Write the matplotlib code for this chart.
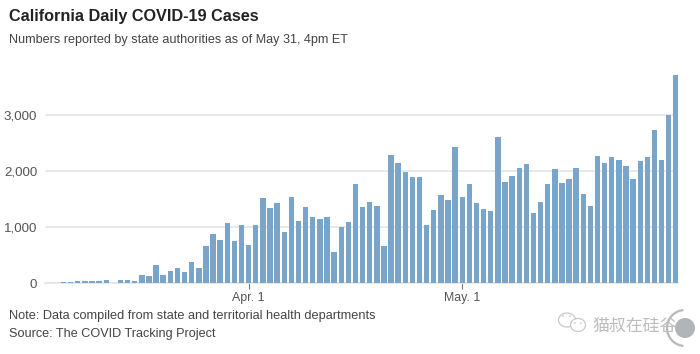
import pandas as pd
import matplotlib
matplotlib.use("Agg")
import matplotlib.pyplot as plt
from matplotlib.patches import Ellipse, Circle, Arc

plt.rcParams['font.family'] = ['Liberation Sans', 'Noto Sans CJK SC', 'DejaVu Sans']

# daily new cases, Mar 6 to May 31
march = [20, 22, 28, 30, 28, 30, 55, 0, 55, 45, 40, 150, 130, 320, 140, 220, 260, 200,
         370, 260, 660, 880, 770, 1070, 750, 1040]
april = [685, 1040, 1518, 1333, 1423, 905, 1536, 1100, 1363, 1173, 1149, 1185, 560, 1000, 1095,
         1762, 1351, 1440, 1381, 655, 2286, 2143, 1976, 1887, 1887, 1036, 1310, 1571, 1476, 2423]
may = [1527, 1760, 1420, 1325, 1277, 2606, 1800, 1902, 2051, 2123, 1258, 1449, 1760, 2027, 1777,
       1860, 2051, 1592, 1371, 2266, 2147, 2254, 2194, 2081, 1849, 2182, 2254, 2725, 2194, 3000, 3715]
cases = march + april + may
days = pd.date_range("2020-03-06", periods=len(cases))

y_ticks = [0, 1000, 2000, 3000]
x_ticks = [pd.Timestamp("2020-04-01"), pd.Timestamp("2020-05-01")]
x_labels = ["Apr. 1", "May. 1"]

title = "California Daily COVID-19 Cases"
subtitle = "Numbers reported by state authorities as of May 31, 4pm ET"
note = "Note: Data compiled from state and territorial health departments"
source = "Source: The COVID Tracking Project"
watermark = "猫叔在硅谷"

W, H = 700, 354
fig = plt.figure(figsize=(W / 100, H / 100), dpi=100)

# axes placed in pixels: y=0 at 283, 3000 at 115
top = 70
ax = fig.add_axes([45 / W, (H - 283) / H, (678 - 45) / W, (283 - top) / H])
ax.bar(days, cases, width=0.76, color="#7aa5cb", zorder=3)
ax.set_ylim(0, (283 - top) / 56 * 1000)
ax.set_xlim(x_ticks[0] - pd.Timedelta(days=28.6), x_ticks[0] + pd.Timedelta(days=60.3))
ax.set_yticks(y_ticks)
ax.set_yticklabels([f"{v:,}" for v in y_ticks])
ax.set_xticks(x_ticks)
ax.set_xticklabels(x_labels)
ax.grid(axis="y", color="#e2e2e2", lw=1.1, zorder=1)
ax.set_axisbelow(True)
ax.tick_params(axis="y", length=0, pad=5.5, labelsize=9.6, labelcolor="#555555")
ax.tick_params(axis="x", length=4, width=0.8, color="#777777", pad=2.5, labelsize=8.9, labelcolor="#555555")
for s in ["top", "right", "left"]:
    ax.spines[s].set_visible(False)
ax.spines["bottom"].set_color("#e2e2e2")
ax.spines["bottom"].set_linewidth(1.1)
ax.spines["bottom"].set_zorder(1)

fig.text(9 / W, 1 - 17 / H, title, fontsize=11.7, fontweight="bold", color="#222222", va="center")
fig.text(9 / W, 1 - 39.5 / H, subtitle, fontsize=9.1, color="#444444", va="center")
fig.text(9 / W, 1 - 315.5 / H, note, fontsize=9.15, color="#444444", va="center")
fig.text(9 / W, 1 - 334.5 / H, source, fontsize=9.05, color="#444444", va="center")

# watermark in the lower right corner, drawn in pixel coordinates
wm = fig.add_axes([0, 0, 1, 1], facecolor="none")
wm.set_xlim(0, W)
wm.set_ylim(H, 0)
wm.axis("off")
wm.add_patch(Ellipse((567, 320), 17, 14, fc="white", ec="#c8c8c8", lw=0.9))
wm.add_patch(Ellipse((578, 325), 15, 13, fc="white", ec="#c8c8c8", lw=0.9))
for cx, cy in [(563, 316), (570, 316), (575, 323), (581, 323)]:
    wm.add_patch(Circle((cx, cy), 0.8, fc="#c0c0c0", ec="none"))
wm.text(592, 326, watermark, fontsize=12.2, color="#bcbcbc", va="center",
        family=['Noto Sans CJK SC', 'DejaVu Sans'])
wm.add_patch(Circle((685, 328), 10, fc="#b0b5ba", ec="none"))
wm.add_patch(Arc((685, 328), 36, 36, theta1=95, theta2=265, ec="#b8b8b8", lw=1.6))

fig.savefig("out.png", dpi=100)
